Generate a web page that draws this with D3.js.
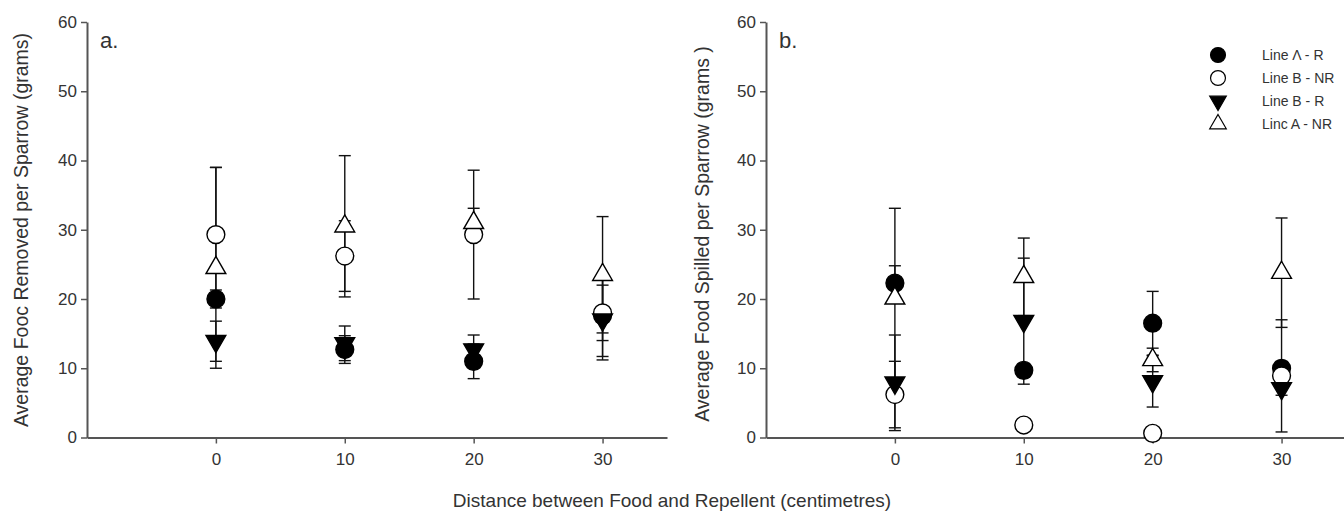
<!DOCTYPE html>
<html>
<head>
<meta charset="utf-8">
<script src="https://cdn.jsdelivr.net/npm/d3@7"></script>
<style>
    body { margin: 0; background: #fff; }
    svg text { font-family: "Liberation Sans", Arial, sans-serif; fill: #333; }
</style>
</head>
<body>
<svg id="chart" width="1344" height="511"></svg>
<script>
// Distances (cm)
const distances = [0, 10, 20, 30];
const yTicks = [0, 10, 20, 30, 40, 50, 60];

const seriesNames = ['Line Λ - R', 'Line B - NR', 'Line B - R', 'Linc A - NR'];

// Panel a: food removed (mean, SE)
const removedAR = [20.0, 12.7, 11.0, 17.6];
const removedARErr = [1.3, 2.0, 2.5, 5.9];
const removedBNR = [29.3, 26.2, 29.3, 18.0];
const removedBNRErr = [9.7, 5.1, 9.3, 4.0];
const removedBR = [13.9, 13.6, 12.7, 17.0];
const removedBRErr = [2.9, 2.5, 2.1, 5.8];
const removedANR = [24.5, 30.5, 31.0, 23.5];
const removedANRErr = [14.5, 10.2, 2.1, 8.4];

// Panel b: food spilled (mean, SE)
const spilledAR = [22.3, 9.7, 16.5, 10.0];
const spilledARErr = [2.5, 1.0, 4.6, 1.0];
const spilledBNR = [6.2, 1.8, 0.6, 8.9];
const spilledBNRErr = [4.8, 0.5, 0.4, 8.1];
const spilledBR = [7.9, 16.8, 8.1, 7.1];
const spilledBRErr = [6.9, 9.1, 3.7, 1.0];
const spilledANR = [20.1, 23.2, 11.2, 23.8];
const spilledANRErr = [13.0, 5.6, 1.7, 7.9];

const svg = d3.select('#chart');

// marker style per series: shape, fill
const markers = [
    { type: d3.symbolCircle, fill: '#000', rotate: 0 },
    { type: d3.symbolCircle, fill: '#fff', rotate: 0 },
    { type: d3.symbolTriangle, fill: '#000', rotate: 180 },
    { type: d3.symbolTriangle, fill: '#fff', rotate: 0 },
];
const markerSize = [250, 250, 170, 170];

function drawPanel(opts) {
    const g = svg.append('g');
    const x = d3.scaleLinear().domain([-10, 35]).range(opts.xRange);
    const y = d3.scaleLinear().domain([0, 60]).range([437.5, 22]);

    // y axis
    const yAxis = g.append('g')
        .attr('transform', `translate(${opts.xRange[0]},0)`)
        .call(d3.axisLeft(y).tickValues(yTicks).tickSize(6).tickPadding(4).tickSizeOuter(0));
    // x axis
    const xAxis = g.append('g')
        .attr('transform', `translate(0,${y(0)})`)
        .call(d3.axisBottom(x).tickValues(distances).tickSize(6).tickPadding(9).tickSizeOuter(0));

    [yAxis, xAxis].forEach(ax => {
        ax.select('.domain').attr('stroke', '#555').attr('stroke-width', 2);
        ax.selectAll('.tick line').attr('stroke', '#555').attr('stroke-width', 1.5);
        ax.selectAll('.tick text').attr('font-size', 17).attr('fill', '#333')
            .style('font-family', '"Liberation Sans", Arial, sans-serif');
    });

    // panel letter
    g.append('text')
        .attr('x', opts.xRange[0] + 13)
        .attr('y', 48)
        .attr('font-size', 22)
        .attr('fill', '#111')
        .text(opts.letter);

    // y title
    g.append('text')
        .attr('transform', `translate(${opts.titleX},${opts.titleY}) rotate(-90)`)
        .attr('text-anchor', 'middle')
        .attr('dominant-baseline', 'central')
        .attr('font-size', 19.5)
        .text(opts.yTitle);

    // error bars first
    opts.series.forEach((s) => {
        const bars = g.append('g').attr('stroke', '#111').attr('stroke-width', 1.4);
        s.mean.forEach((m, i) => {
            const cx = x(distances[i]);
            const lo = Math.max(0, m - s.err[i]);
            const hi = m + s.err[i];
            bars.append('line').attr('x1', cx).attr('x2', cx).attr('y1', y(lo)).attr('y2', y(hi));
            bars.append('line').attr('x1', cx - 6).attr('x2', cx + 6).attr('y1', y(lo)).attr('y2', y(lo));
            bars.append('line').attr('x1', cx - 6).attr('x2', cx + 6).attr('y1', y(hi)).attr('y2', y(hi));
        });
    });

    // markers
    opts.series.forEach((s, k) => {
        const mk = markers[k];
        g.append('g').selectAll('path')
            .data(s.mean)
            .join('path')
            .attr('d', d3.symbol().type(mk.type).size(markerSize[k]))
            .attr('transform', (d, i) => `translate(${x(distances[i])},${y(d)}) rotate(${mk.rotate})`)
            .attr('fill', mk.fill)
            .attr('stroke', '#000')
            .attr('stroke-width', 1.4);
    });
}

drawPanel({
    xRange: [87, 667],
    letter: 'a.',
    titleX: 21,
    titleY: 230,
    yTitle: 'Average Fooc Removed per Sparrow (grams)',
    series: [
        { mean: removedAR, err: removedARErr },
        { mean: removedBNR, err: removedBNRErr },
        { mean: removedBR, err: removedBRErr },
        { mean: removedANR, err: removedANRErr },
    ],
});

drawPanel({
    xRange: [766, 1346],
    letter: 'b.',
    titleX: 702,
    titleY: 234,
    yTitle: 'Average Food Spilled per Sparrow (grams )',
    series: [
        { mean: spilledAR, err: spilledARErr },
        { mean: spilledBNR, err: spilledBNRErr },
        { mean: spilledBR, err: spilledBRErr },
        { mean: spilledANR, err: spilledANRErr },
    ],
});

// shared x title
svg.append('text')
    .attr('x', 672)
    .attr('y', 507)
    .attr('text-anchor', 'middle')
    .attr('font-size', 19)
    .text('Distance between Food and Repellent (centimetres)');

// legend
const legend = svg.append('g').attr('transform', 'translate(1218,55)');
seriesNames.forEach((name, k) => {
    const mk = markers[k];
    const row = legend.append('g').attr('transform', `translate(0,${k * 23})`);
    row.append('path')
        .attr('d', d3.symbol().type(mk.type).size(markerSize[k] * 0.7))
        .attr('transform', `rotate(${mk.rotate})`)
        .attr('fill', mk.fill)
        .attr('stroke', '#000')
        .attr('stroke-width', 1.2);
    row.append('text')
        .attr('x', 44)
        .attr('dominant-baseline', 'central')
        .attr('font-size', 14)
        .text(name);
});
</script>
</body>
</html>
